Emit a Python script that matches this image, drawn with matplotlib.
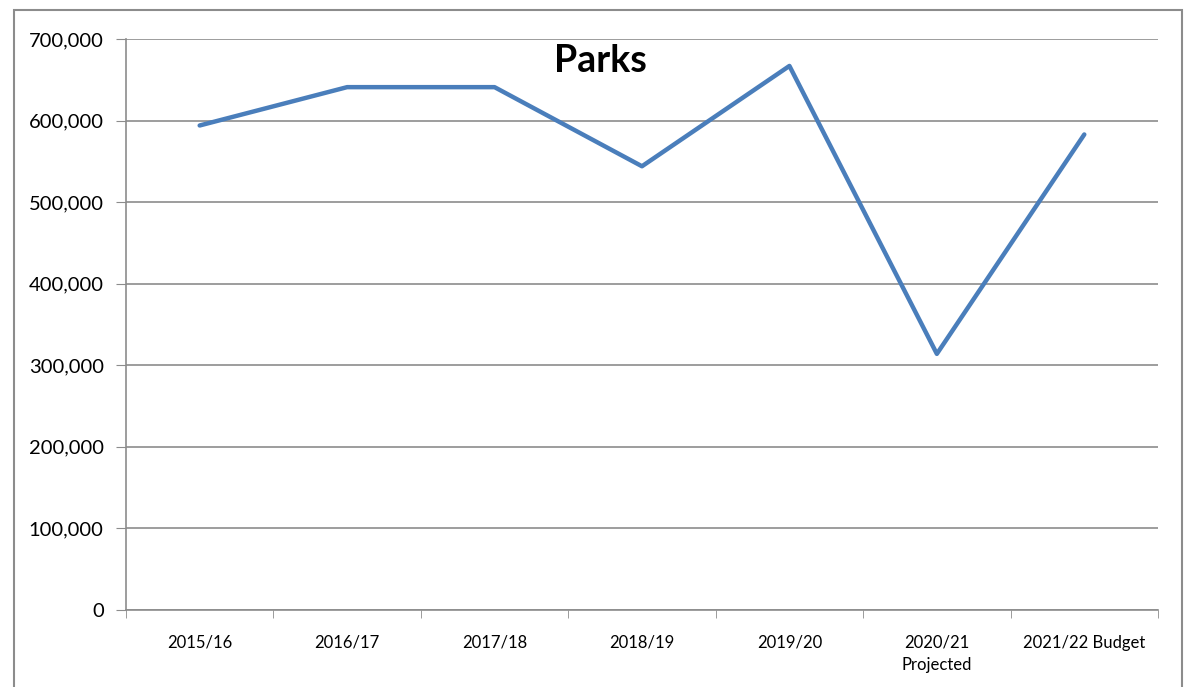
import numpy as np
import matplotlib.pyplot as plt
from matplotlib.patches import Rectangle
from matplotlib.ticker import FuncFormatter, FixedLocator

# Data
years = ['2015/16', '2016/17', '2017/18', '2018/19', '2019/20',
         '2020/21\nProjected', '2021/22 Budget']
spend = [594000, 641000, 641000, 544000, 667000, 314000, 583000]

plt.rcParams['font.family'] = ['Lato', 'DejaVu Sans']

fig = plt.figure(figsize=(11.86, 6.87), dpi=100)
ax = fig.add_axes([0.1062, 0.1121, 0.8702, 0.8311])

x = np.arange(len(years))
ax.plot(x, spend, color='#4a7ebb', linewidth=3.2, solid_capstyle='round')

ax.set_xlim(-0.5, len(years) - 0.5)
ax.set_ylim(0, 700000)
ax.set_yticks(np.arange(0, 700001, 100000))
ax.yaxis.set_major_formatter(FuncFormatter(lambda v, p: f'{int(v):,}'))
ax.grid(axis='y', color='#8c8c8c', linewidth=1.2)
ax.set_axisbelow(True)

ax.set_xticks(x)
ax.set_xticklabels(years, fontsize=12, linespacing=1.45)
ax.xaxis.set_minor_locator(FixedLocator(np.arange(-0.5, len(years), 1)))
ax.tick_params(axis='x', which='major', length=0, pad=18)
ax.tick_params(axis='x', which='minor', length=6, color='#8c8c8c')
ax.tick_params(axis='y', labelsize=14.5, length=7, color='#8c8c8c', pad=9)

for s in ['top', 'right']:
    ax.spines[s].set_visible(False)
for s in ['left', 'bottom']:
    ax.spines[s].set_color('#8c8c8c')
    ax.spines[s].set_linewidth(1.2)

fig.text(0.506, 0.911, 'Parks', fontsize=27, fontweight='bold',
         ha='center', va='center')

fig.patches.append(Rectangle((14 / 1186, -0.05), 1168 / 1186, 1.05 - 10 / 687,
                             transform=fig.transFigure, fill=False,
                             edgecolor='#8c8c8c', linewidth=1.5))

fig.savefig('out.png', dpi=100)
